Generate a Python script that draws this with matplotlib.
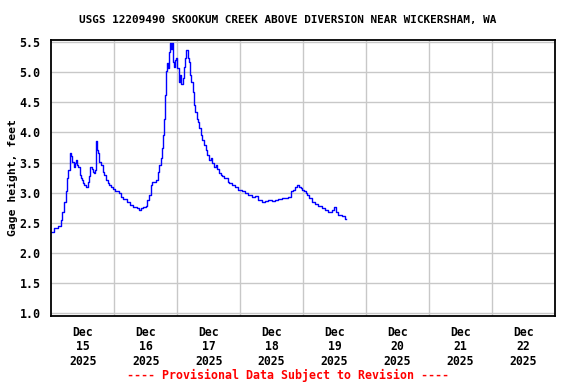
import numpy as np
import matplotlib
matplotlib.use('Agg')
import matplotlib.pyplot as plt

# hours since Dec 15 2025 00:00, gage height (ft)
hours = [0.0, 2.0, 3.2, 3.9, 4.5, 5.2, 5.8, 6.2, 6.7, 7.1, 7.4, 7.7, 8.3, 8.7,
         9.2, 9.6, 10.0, 10.5, 10.9, 11.3, 11.8, 12.1, 12.8, 13.7, 14.0, 14.4,
         15.1, 15.6, 16.1, 16.5, 16.9, 17.1, 17.5, 17.9, 18.5, 19.2, 19.8, 20.4,
         21.1, 21.7, 22.3, 23.0, 23.6, 24.5, 25.5, 26.1, 26.8, 28.0, 29.3, 30.6,
         31.9, 33.1, 33.8, 34.4, 35.7, 36.3, 36.9, 37.6, 38.2, 38.8, 39.5, 40.4,
         40.8, 41.4, 42.1, 42.4, 42.9, 43.2, 43.6, 44.0, 44.3, 44.6, 45.0, 45.3,
         45.7, 46.0, 46.4, 46.7, 47.0, 47.4, 47.8, 48.3, 48.7, 49.0, 49.4, 49.8,
         50.3, 50.8, 51.3, 51.7, 52.2, 52.6, 53.1, 53.6, 54.1, 54.6, 55.1, 55.6,
         56.2, 56.7, 57.3, 57.9, 58.6, 59.2, 59.8, 60.5, 61.1, 61.7, 62.4, 63.0,
         63.7, 64.3, 64.9, 65.6, 66.2, 66.9, 67.5, 68.1, 69.4, 70.7, 71.9, 73.2,
         74.5, 75.7, 77.0, 78.3, 79.6, 80.8, 82.1, 83.4, 84.6, 85.9, 87.2, 88.5,
         89.8, 91.0, 91.7, 92.5, 93.3, 94.2, 94.8, 95.5, 96.1, 96.7, 97.4, 98.0,
         98.6, 99.9, 101.2, 102.5, 103.7, 105.0, 106.3, 107.5, 108.2, 108.8,
         110.1, 111.4, 112.4]
gage = [2.35, 2.41, 2.45, 2.55, 2.68, 2.85, 3.02, 3.24, 3.38, 3.57, 3.65, 3.60,
        3.51, 3.43, 3.49, 3.54, 3.46, 3.43, 3.29, 3.24, 3.21, 3.16, 3.13, 3.10,
        3.18, 3.27, 3.43, 3.40, 3.35, 3.32, 3.38, 3.85, 3.71, 3.65, 3.51, 3.46,
        3.35, 3.29, 3.21, 3.16, 3.13, 3.10, 3.06, 3.03, 3.03, 3.00, 2.93, 2.89,
        2.85, 2.80, 2.76, 2.74, 2.71, 2.74, 2.76, 2.78, 2.88, 2.96, 3.13, 3.18,
        3.18, 3.21, 3.35, 3.46, 3.57, 3.74, 3.96, 4.23, 4.62, 5.01, 5.15, 5.06,
        5.34, 5.48, 5.39, 5.48, 5.28, 5.17, 5.09, 5.20, 5.23, 5.06, 4.92, 4.84,
        4.95, 4.81, 4.90, 5.09, 5.23, 5.37, 5.23, 5.17, 4.95, 4.84, 4.67, 4.45,
        4.34, 4.23, 4.18, 4.07, 3.96, 3.87, 3.79, 3.71, 3.63, 3.54, 3.57, 3.49,
        3.43, 3.46, 3.40, 3.33, 3.29, 3.27, 3.24, 3.25, 3.18, 3.16, 3.13, 3.10,
        3.04, 3.02, 2.99, 2.96, 2.93, 2.95, 2.88, 2.85, 2.86, 2.88, 2.87, 2.88,
        2.89, 2.91, 2.92, 2.93, 3.02, 3.04, 3.10, 3.13, 3.10, 3.07, 3.04, 3.02,
        2.99, 2.96, 2.91, 2.85, 2.82, 2.78, 2.74, 2.71, 2.68, 2.71, 2.77, 2.68,
        2.63, 2.61, 2.56]

day_nums = ['15', '16', '17', '18', '19', '20', '21', '22']
y_ticks = [1.0, 1.5, 2.0, 2.5, 3.0, 3.5, 4.0, 4.5, 5.0, 5.5]

mono = 'DejaVu Sans Mono'
fig = plt.figure(figsize=(5.76, 3.84), dpi=100)
ax = fig.add_axes([0.0894, 0.1771, 0.8733, 0.72])

ax.plot(hours, gage, color='#0000ff', lw=1.0, drawstyle='steps-mid')

ax.set_xlim(0, 192)
ax.set_ylim(0.955, 5.54)

# horizontal grid at ticks, vertical grid at midnight
for v in y_ticks:
    ax.axhline(v, color='#c8c8c8', lw=1.0, zorder=0)
for d in range(1, 8):
    ax.axvline(d * 24, color='#c8c8c8', lw=1.0, zorder=0)

ax.set_yticks(y_ticks)
ax.set_yticklabels(['%.1f' % v for v in y_ticks], family=mono,
                   fontweight='bold', fontsize=8.4)
ax.set_xticks([12 + 24 * i for i in range(8)])
ax.set_xticklabels(['Dec\n%s\n2025' % d for d in day_nums], family=mono,
                   fontweight='bold', fontsize=8.3, linespacing=1.15)
ax.tick_params(axis='both', length=0)
ax.tick_params(axis='y', pad=8)
ax.tick_params(axis='x', pad=7)

for s in ax.spines.values():
    s.set_linewidth(1.3)

ax.set_ylabel('Gage height, feet', family=mono, fontweight='bold',
              fontsize=8.2)
ax.yaxis.set_label_coords(-0.066, 0.5)

fig.text(0.5, 0.947, 'USGS 12209490 SKOOKUM CREEK ABOVE DIVERSION NEAR WICKERSHAM, WA',
         ha='center', va='center', family=mono, fontweight='bold', fontsize=7.9)
fig.text(0.5, 0.023, '---- Provisional Data Subject to Revision ----',
         ha='center', va='center', family=mono, fontweight='bold',
         fontsize=8.4, color='red')

fig.savefig('out.png', dpi=100)
